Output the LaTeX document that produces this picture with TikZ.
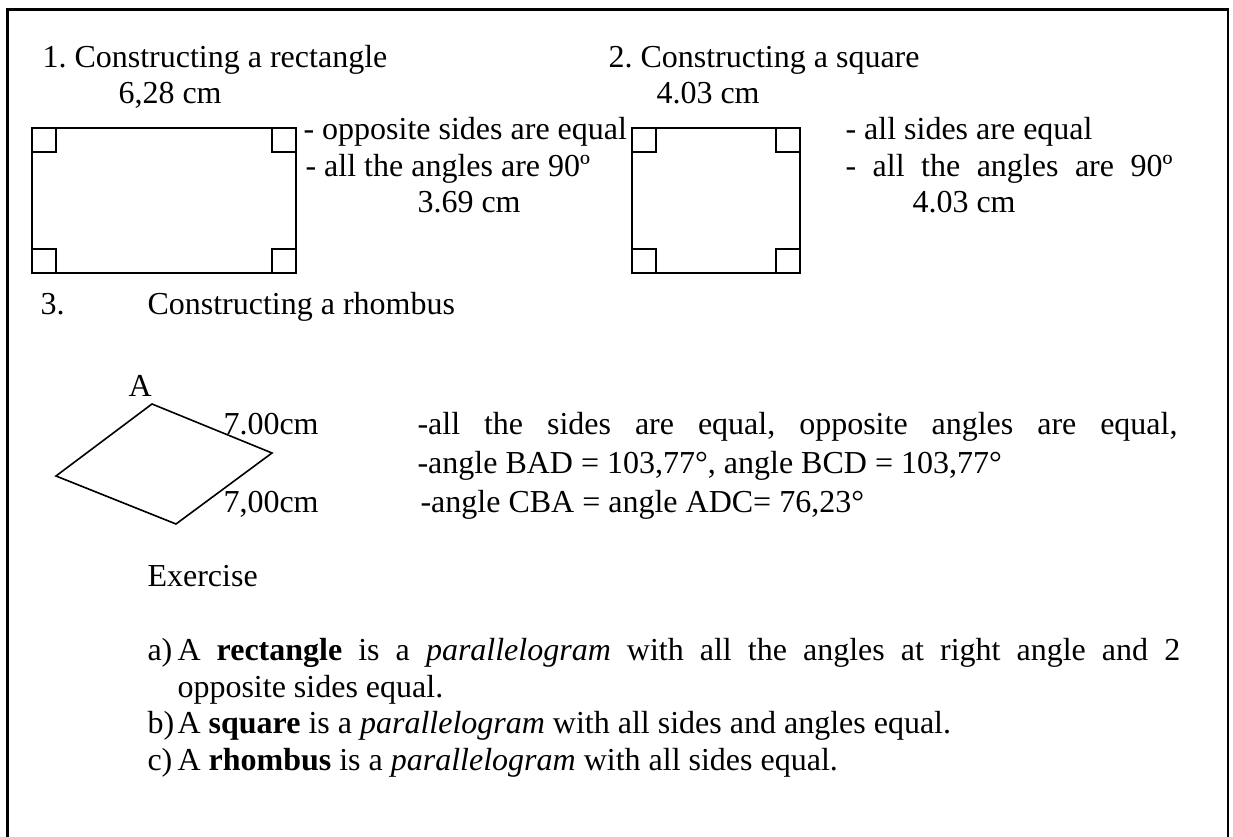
\documentclass[tikz,border=0pt]{standalone}
\usepackage{fontspec}
\setmainfont{Liberation Serif}
\usetikzlibrary{positioning}
\newcommand{\justline}[2]{\makebox[#1][s]{#2}}
\frenchspacing

\begin{document}
\begin{tikzpicture}[x=0.375pt, y=-0.375pt,
    txt/.style={anchor=base west, inner sep=0pt, font=\fontsize{12pt}{14pt}\selectfont},
    outline/.style={line width=0.75pt},
    corner/.style={line width=0.75pt}
]
    \useasboundingbox (0,0) rectangle (1233,837);
    \draw[line width=0.9pt] (7.5,837) -- (7.5,9.5) -- (1228,9.5) -- (1228,837);

    % 1. rectangle
    \node[txt] (title1) at (42,68) {1. Constructing a rectangle};
    \node[txt] (len1) at (118,104) {6,28 cm};
    \draw[outline] (32,128) rectangle (296,273);
    \foreach \x/\y in {32/128, 272/128, 32/249, 272/249}
        \draw[corner] (\x,\y) rectangle ++(24,24);
    \node[txt] (prop1a) at (303,140) {- opposite sides are equal};
    \node[txt] (prop1b) at (305,177) {- all the angles are 90º};
    \node[txt] (wid1) at (417,213) {3.69 cm};

    % 2. square
    \node[txt] (title2) at (608,68) {2. Constructing a square};
    \node[txt] (len2) at (656,104) {4.03 cm};
    \draw[outline] (632,128) rectangle (800,273);
    \foreach \x/\y in {632/128, 776/128, 632/249, 776/249}
        \draw[corner] (\x,\y) rectangle ++(24,24);
    \node[txt] (prop2a) at (845,140) {- all sides are equal};
    \node[txt] (prop2b) at (845,177) {\justline{122.6pt}{- all the angles are 90º}};
    \node[txt] (wid2) at (912,213) {4.03 cm};

    % 3. rhombus
    \node[txt] (num3) at (40,315) {3.};
    \node[txt] (title3) at (147,315) {Constructing a rhombus};
    \node[txt] (ptA) at (128,397) {A};
    \coordinate (rA) at (152,404);
    \coordinate (rB) at (272,453);
    \coordinate (rC) at (176,524);
    \coordinate (rD) at (56,476);
    \draw[line width=0.6pt] (rA) -- (rB) -- (rC) -- (rD) -- cycle;
    \node[txt] (side1) at (223,435) {7.00cm};
    \node[txt] (side2) at (223,513) {7,00cm};
    \node[txt] (prop3a) at (417,435) {\justline{285pt}{-all the sides are equal, opposite angles are equal,}};
    \node[txt] (prop3b) at (417,474) {-angle BAD = 103,77°, angle BCD = 103,77°};
    \node[txt] (prop3c) at (420,513) {-angle CBA = angle ADC= 76,23°};

    % exercise
    \node[txt] (ex) at (147,587) {Exercise};
    \node[txt] (itemA) at (147,661) {a)};
    \node[txt] (textA) at (177,661) {\justline{376pt}{A \textbf{rectangle} is a \textit{parallelogram} with all the angles at right angle and 2}};
    \node[txt] (textA2) at (177,697) {opposite sides equal.};
    \node[txt] (itemB) at (147,733) {b)};
    \node[txt] (textB) at (177,733) {A \textbf{square} is a \textit{parallelogram} with all sides and angles equal.};
    \node[txt] (itemC) at (147,770) {c)};
    \node[txt] (textC) at (177,770) {A \textbf{rhombus} is a \textit{parallelogram} with all sides equal.};
\end{tikzpicture}
\end{document}
